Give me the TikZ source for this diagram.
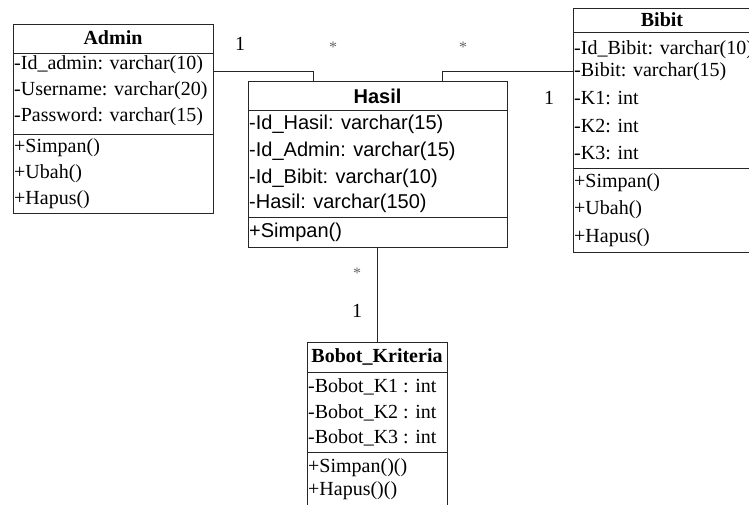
\documentclass[tikz,border=0pt]{standalone}
\usepackage{fontspec}
\setmainfont{Liberation Serif}
\setsansfont{Liberation Sans}
\begin{document}
\begin{tikzpicture}[x=1pt,y=-1pt,
  box/.style={draw=black!85,line width=0.8pt,anchor=north west,inner sep=0pt},
  sep/.style={draw=black!85,line width=0.8pt},
  conn/.style={draw=black!85,line width=0.8pt},
  attr/.style={anchor=west,inner sep=0pt,font=\fontsize{20}{24}\selectfont},
  sattr/.style={anchor=west,inner sep=0pt,font=\sffamily\fontsize{20}{24}\selectfont},
  ttl/.style={inner sep=0pt,font=\bfseries\fontsize{20}{24}\selectfont},
  sttl/.style={inner sep=0pt,font=\sffamily\bfseries\fontsize{20}{24}\selectfont},
  mult/.style={inner sep=0pt,font=\fontsize{20}{24}\selectfont},
  star/.style={inner sep=0pt,text=black!60,font=\fontsize{16}{18}\selectfont}]
\useasboundingbox (0,0) rectangle (749,504);
\clip (0,0) rectangle (749,504);
% Admin
\node[box,minimum width=200pt,minimum height=189pt] (admin) at (13,24) {};
\draw[sep] (13,53) -- (213,53);
\draw[sep] (13,134) -- (213,134);
\node[ttl] (admint) at (113,38) {Admin};
\node[attr] (a1) at (14,65) {-Id\_admin: varchar(10)};
\node[attr] (a2) at (14,91) {-Username: varchar(20)};
\node[attr] (a3) at (14,117) {-Password: varchar(15)};
\node[attr] (a4) at (14,148) {+Simpan()};
\node[attr] (a5) at (14,174) {+Ubah()};
\node[attr] (a6) at (14,200) {+Hapus()};
% Hasil
\node[box,minimum width=259pt,minimum height=166pt] (hasil) at (248,81) {};
\draw[sep] (248,110) -- (507,110);
\draw[sep] (248,217) -- (507,217);
\node[sttl] (hasilt) at (377.5,96) {Hasil};
\node[sattr] (h1) at (249,124) {-Id\_Hasil: varchar(15)};
\node[sattr] (h2) at (249,151) {-Id\_Admin: varchar(15)};
\node[sattr] (h3) at (249,178) {-Id\_Bibit: varchar(10)};
\node[sattr] (h4) at (249,203) {-Hasil: varchar(150)};
\node[sattr] (h5) at (249,232) {+Simpan()};
% Bibit
\node[box,minimum width=200pt,minimum height=244pt] (bibit) at (573,8) {};
\draw[sep] (573,32) -- (773,32);
\draw[sep] (573,168) -- (773,168);
\node[ttl] (bibitt) at (662,20) {Bibit};
\node[attr] (b1) at (574,50) {-Id\_Bibit: varchar(10)};
\node[attr] (b2) at (574,72) {-Bibit: varchar(15)};
\node[attr] (b3) at (574,98) {-K1: int};
\node[attr] (b4) at (574,126) {-K2: int};
\node[attr] (b5) at (574,153) {-K3: int};
\node[attr] (b6) at (574,183) {+Simpan()};
\node[attr] (b7) at (574,210) {+Ubah()};
\node[attr] (b8) at (574,238) {+Hapus()};
% Bobot_Kriteria
\node[box,minimum width=140pt,minimum height=170pt] (bobot) at (307,342) {};
\draw[sep] (307,372) -- (447,372);
\draw[sep] (307,452) -- (447,452);
\node[ttl] (bobott) at (377,357) {Bobot\_Kriteria};
\node[attr] (k1) at (308,387) {-Bobot\_K1 : int};
\node[attr] (k2) at (308,413) {-Bobot\_K2 : int};
\node[attr] (k3) at (308,438) {-Bobot\_K3 : int};
\node[attr] (k4) at (308,468) {+Simpan()()};
\node[attr] (k5) at (308,491) {+Hapus()()};
% connectors
\coordinate (ya) at (0,71);
\coordinate (xa) at (313,0);
\coordinate (xb) at (442,0);
\draw[conn] (admin.east |- ya) -| (hasil.north -| xa);
\draw[conn] (hasil.north -| xb) |- (bibit.west |- ya);
\draw[conn] (hasil.south -| bobot.north) -- (bobot.north);
% multiplicities
\node[mult] (m1) at (240,44) {1};
\node[star] (s1) at (333,47) {*};
\node[star] (s2) at (463,47) {*};
\node[mult] (m2) at (549,98) {1};
\node[star] (s3) at (357,273) {*};
\node[mult] (m3) at (357,311) {1};
\end{tikzpicture}
\end{document}
